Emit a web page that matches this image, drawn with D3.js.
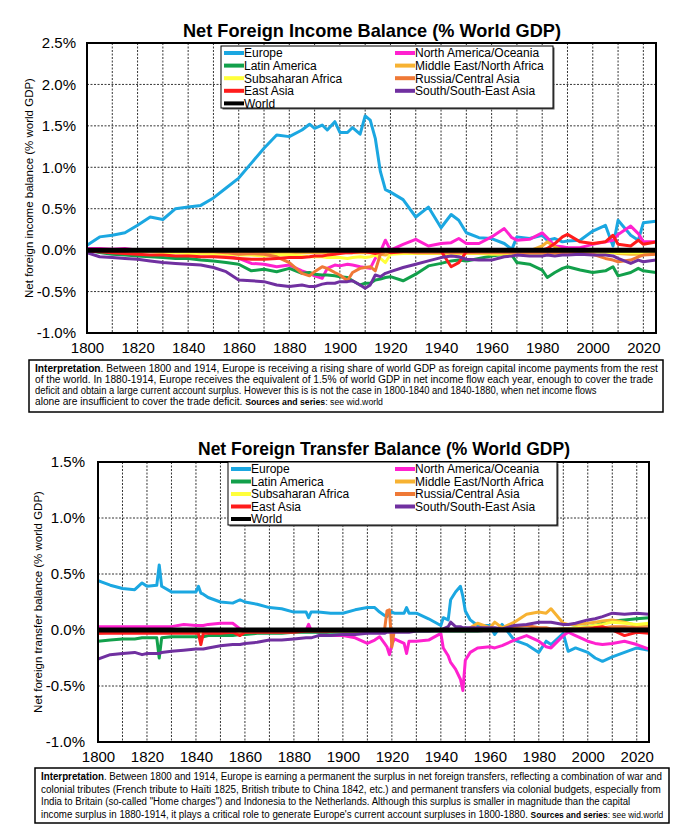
<!DOCTYPE html>
<html>
<head>
<meta charset="utf-8">
<script src="https://cdn.jsdelivr.net/npm/d3@7"></script>
<style>
  body { margin: 0; background: #fff; }
  svg { display: block; font-family: "Liberation Sans", Arial, sans-serif; }
</style>
</head>
<body>
<script>
// ---- shared labels ----
var regionNames = ["Europe", "North America/Oceania", "Latin America", "Middle East/North Africa",
                   "Subsaharan Africa", "Russia/Central Asia", "East Asia", "South/South-East Asia", "World"];
var regionColors = ["#1ba7e1", "#ff21cf", "#12a04b", "#f7b232", "#ffff3a", "#ef7936", "#ff1c1c", "#7030a0", "#000000"];
var legendLeft = ["Europe", "Latin America", "Subsaharan Africa", "East Asia", "World"];
var legendRight = ["North America/Oceania", "Middle East/North Africa", "Russia/Central Asia", "South/South-East Asia"];
var xTicks = [1800, 1820, 1840, 1860, 1880, 1900, 1920, 1940, 1960, 1980, 2000, 2020];
var xGrid = [1810, 1820, 1830, 1840, 1850, 1860, 1870, 1880, 1890, 1900, 1910, 1920, 1930, 1940,
             1950, 1960, 1970, 1980, 1990, 2000, 2010, 2020];

// ---- net foreign income balance (% world GDP) ----
var incomeTicks = [-1.0, -0.5, 0.0, 0.5, 1.0, 1.5, 2.0, 2.5];
var incomeYears = [1800,1805,1810,1815,1820,1825,1830,1835,1840,1845,
                   1850,1855,1860,1865,1870,1875,1880,1885,1888,1890,
                   1893,1895,1898,1900,1903,1905,1908,1910,1912,1914,
                   1916,1918,1920,1925,1930,1935,1940,1944,1947,1950,
                   1955,1960,1965,1968,1970,1975,1980,1982,1985,1988,
                   1990,1995,2000,2005,2008,2010,2015,2018,2020,2025];
var incEurope = [0.06,0.16,0.18,0.21,0.30,0.40,0.37,0.50,0.52,0.54,
                 0.63,0.75,0.87,1.05,1.23,1.39,1.37,1.45,1.52,1.47,
                 1.51,1.45,1.55,1.42,1.42,1.48,1.40,1.62,1.57,1.35,
                 0.95,0.73,0.70,0.61,0.40,0.52,0.27,0.43,0.36,0.21,
                 0.15,0.14,0.08,0.01,0.16,0.14,0.18,0.12,0.14,0.10,
                 0.11,0.12,0.23,0.30,0.05,0.36,0.18,0.12,0.33,0.35];
var incNorthAm = [0.02,0.02,0.01,0.02,0.00,0.00,0.01,-0.01,-0.02,-0.03,
                  -0.05,-0.07,-0.10,-0.16,-0.17,-0.20,-0.18,-0.25,-0.28,-0.31,
                  -0.34,-0.22,-0.18,-0.19,-0.17,-0.18,-0.20,-0.21,-0.22,-0.10,
                  -0.02,0.12,0.00,0.07,0.13,0.05,0.08,0.09,0.14,0.08,
                  0.08,0.16,0.26,0.15,0.12,0.13,0.21,0.15,0.05,0.04,
                  0.03,0.03,0.07,0.10,0.12,0.19,0.29,0.20,0.10,0.10];
var incLatAm = [0.00,-0.03,-0.05,-0.06,-0.07,-0.08,-0.09,-0.10,-0.10,-0.12,
                -0.13,-0.15,-0.17,-0.25,-0.23,-0.26,-0.22,-0.28,-0.27,-0.29,
                -0.30,-0.30,-0.31,-0.32,-0.33,-0.37,-0.42,-0.40,-0.40,-0.36,
                -0.35,-0.33,-0.32,-0.37,-0.29,-0.19,-0.16,-0.13,-0.12,-0.13,
                -0.10,-0.07,-0.05,-0.06,-0.15,-0.17,-0.24,-0.33,-0.27,-0.22,
                -0.20,-0.24,-0.27,-0.25,-0.20,-0.31,-0.27,-0.22,-0.25,-0.27];
var incMidEast = [0.00,0.00,-0.01,-0.01,-0.01,-0.01,-0.02,-0.02,-0.02,-0.02,
                  -0.02,-0.02,-0.03,-0.03,-0.03,-0.03,-0.03,-0.03,-0.03,-0.03,
                  -0.03,-0.03,-0.03,-0.03,-0.03,-0.03,-0.03,-0.03,-0.03,-0.04,
                  -0.05,-0.06,-0.03,-0.02,-0.02,-0.02,-0.02,-0.03,-0.02,-0.02,
                  -0.02,-0.02,-0.02,-0.02,-0.02,-0.01,0.05,0.10,0.04,0.00,
                  -0.01,-0.02,-0.02,-0.02,-0.03,-0.04,-0.05,-0.05,-0.04,-0.04];
var incSubSahara = [0.00,0.00,-0.01,-0.01,-0.02,-0.02,-0.03,-0.03,-0.04,-0.04,
                    -0.05,-0.05,-0.06,-0.06,-0.07,-0.06,-0.06,-0.07,-0.08,-0.08,
                    -0.08,-0.09,-0.09,-0.09,-0.10,-0.09,-0.08,-0.09,-0.08,-0.06,
                    -0.10,-0.15,-0.05,-0.04,-0.04,-0.04,-0.04,-0.04,-0.04,-0.04,
                    -0.04,-0.05,-0.05,-0.05,-0.05,-0.05,-0.05,-0.04,-0.04,-0.04,
                    -0.03,-0.03,-0.03,-0.03,-0.03,-0.03,-0.03,-0.03,-0.03,-0.03];
var incRussia = [0.00,0.00,0.00,0.00,-0.01,-0.01,-0.01,-0.01,-0.01,-0.02,
                 -0.02,-0.03,-0.05,-0.04,-0.05,-0.08,-0.15,-0.28,-0.31,-0.26,
                 -0.20,-0.22,-0.27,-0.30,-0.37,-0.27,-0.22,-0.21,-0.20,-0.25,
                 -0.05,-0.02,-0.02,-0.02,-0.03,-0.03,-0.03,-0.03,-0.03,-0.03,
                 -0.03,-0.03,-0.03,-0.03,-0.03,-0.03,-0.03,-0.03,-0.03,-0.03,
                 -0.04,-0.04,-0.05,-0.10,-0.12,-0.14,-0.12,-0.08,-0.06,-0.05];
var incEastAsia = [-0.01,-0.02,-0.03,-0.04,-0.05,-0.06,-0.06,-0.07,-0.07,-0.08,
                   -0.08,-0.09,-0.10,-0.11,-0.11,-0.10,-0.09,-0.09,-0.08,-0.07,
                   -0.07,-0.06,-0.05,-0.04,-0.03,-0.03,-0.02,-0.02,-0.03,-0.04,
                   -0.02,0.00,-0.03,-0.02,-0.01,0.00,-0.01,-0.20,-0.15,-0.02,
                   0.00,0.00,0.00,0.00,0.00,0.00,0.00,0.02,0.08,0.16,
                   0.19,0.10,0.08,0.10,0.18,0.07,0.05,0.12,0.07,0.10];
var incSouthAsia = [-0.03,-0.08,-0.09,-0.10,-0.11,-0.13,-0.15,-0.16,-0.17,-0.18,
                    -0.21,-0.26,-0.36,-0.37,-0.38,-0.42,-0.44,-0.42,-0.44,-0.44,
                    -0.41,-0.40,-0.40,-0.38,-0.38,-0.37,-0.42,-0.46,-0.42,-0.30,
                    -0.32,-0.28,-0.26,-0.21,-0.17,-0.13,-0.09,-0.07,-0.08,-0.11,
                    -0.12,-0.12,-0.08,-0.07,-0.06,-0.07,-0.07,-0.06,-0.07,-0.06,
                    -0.06,-0.05,-0.06,-0.06,-0.07,-0.10,-0.16,-0.12,-0.14,-0.12];
var incWorld = [0,0,0,0,0,0,0,0,0,0, 0,0,0,0,0,0,0,0,0,0, 0,0,0,0,0,0,0,0,0,0,
                0,0,0,0,0,0,0,0,0,0, 0,0,0,0,0,0,0,0,0,0, 0,0,0,0,0,0,0,0,0,0];

// ---- net foreign transfer balance (% world GDP) ----
var transferTicks = [-1.0, -0.5, 0.0, 0.5, 1.0, 1.5];
var transferYears = [1800,1805,1810,1815,1818,1820,1824,1825,1826,1830,
                     1835,1840,1841,1842,1843,1845,1850,1855,1858,1860,
                     1865,1870,1875,1880,1885,1886,1887,1890,1895,1900,
                     1905,1910,1913,1915,1917,1918,1919,1920,1921,1925,
                     1926,1927,1930,1935,1940,1941,1943,1944,1946,1948,
                     1949,1950,1952,1955,1960,1962,1965,1970,1975,1980,
                     1983,1985,1990,1992,1995,2000,2003,2006,2010,2015,
                     2020,2025];
var trEurope = [0.44,0.40,0.37,0.36,0.42,0.39,0.40,0.58,0.39,0.34,
                0.34,0.34,0.39,0.33,0.32,0.29,0.25,0.24,0.27,0.25,
                0.23,0.20,0.19,0.16,0.16,0.11,0.16,0.16,0.15,0.15,
                0.18,0.20,0.20,0.16,0.13,0.12,0.15,0.16,0.15,0.15,
                0.20,0.15,0.15,0.10,0.04,0.11,0.09,0.27,0.34,0.39,
                0.30,0.17,0.09,0.04,0.04,-0.04,0.05,-0.09,-0.13,-0.20,
                -0.10,-0.13,-0.03,-0.19,-0.16,-0.20,-0.25,-0.28,-0.24,-0.20,
                -0.16,-0.18];
var trNorthAm = [0.03,0.03,0.03,0.03,0.03,0.03,0.03,0.03,0.03,0.03,
                 0.05,0.04,0.04,0.04,0.04,0.05,0.06,0.06,0.01,0.00,
                 0.00,0.00,0.00,0.00,0.00,0.05,0.00,-0.02,-0.05,-0.05,
                 -0.07,-0.12,-0.09,-0.06,-0.12,-0.15,-0.22,-0.13,-0.08,-0.12,
                 -0.21,-0.10,-0.10,-0.09,-0.03,-0.16,-0.23,-0.29,-0.35,-0.44,
                 -0.54,-0.27,-0.20,-0.16,-0.15,-0.16,-0.14,-0.09,-0.05,-0.10,
                 -0.15,-0.16,-0.05,-0.02,-0.05,-0.10,-0.12,-0.13,-0.12,-0.10,
                 -0.13,-0.17];
var trLatAm = [-0.10,-0.09,-0.08,-0.08,-0.07,-0.07,-0.07,-0.25,-0.07,-0.06,
               -0.06,-0.06,-0.06,-0.06,-0.06,-0.05,-0.05,-0.05,-0.04,-0.04,
               -0.03,-0.03,-0.03,-0.02,-0.02,-0.02,-0.02,-0.02,-0.02,-0.02,
               -0.02,-0.01,-0.01,-0.01,-0.01,-0.01,-0.01,-0.01,-0.01,-0.01,
               -0.01,-0.01,-0.01,-0.01,-0.01,-0.01,-0.01,-0.01,-0.01,-0.01,
               -0.01,-0.01,-0.01,-0.01,0.00,0.00,0.00,0.00,0.00,0.00,
               0.00,0.00,0.01,0.01,0.02,0.03,0.04,0.06,0.08,0.09,
               0.10,0.11];
var trMidEast = [0,0,0,0,0,0,0,0,0,0, 0,0,0,0,0,0,0,0,0,0, 0,0,0,0,0,0,0,0,0,0,
                 0,0,0,0,0,0,0,0,0,0, 0,0,0,0,0,0,0,0,0,0,
                 0.00,0.00,0.02,0.06,0.02,0.07,0.02,0.07,0.14,0.16,
                 0.15,0.19,0.06,0.05,0.05,0.06,0.07,0.08,0.09,0.07,
                 0.04,0.05];
var trSubSahara = [0,0,0,0,0,0,0,0,0,0, 0,0,0,0,0,0,0,0,0,0, 0,0,0,0,0,0,0,0,0,0,
                   0,0,0,0,0,0,0,0,0,0, 0,0,0,0,0,0,0,0,0,0, 0,0,0,0,0,0,0,0,0,0,
                   0.00,0.00,0.01,0.01,0.02,0.03,0.04,0.05,0.07,0.06,
                   0.05,0.06];
var trRussia = [-0.03,-0.02,-0.02,-0.02,-0.02,-0.02,-0.02,-0.02,-0.02,-0.02,
                -0.02,-0.02,-0.02,-0.02,-0.02,-0.02,-0.02,-0.02,-0.02,-0.02,
                -0.01,-0.01,-0.01,-0.01,-0.01,-0.01,-0.01,-0.01,-0.01,-0.01,
                -0.01,-0.01,0.00,0.00,0.00,0.17,0.18,-0.15,0.00,0.00,
                0,0,0,0,0,0,0,0,0,0,
                0.00,0.00,0.00,0.00,0.00,0.00,0.00,0.03,0.04,0.02,
                0.02,0.01,0.01,0.01,0.01,0.02,0.02,0.02,0.03,0.03,
                0.02,0.02];
var trEastAsia = [-0.03,-0.03,-0.03,-0.03,-0.03,-0.03,-0.03,-0.03,-0.03,-0.03,
                  -0.03,-0.03,-0.03,-0.13,-0.03,-0.03,-0.03,-0.02,-0.05,-0.02,
                  -0.02,-0.02,-0.02,-0.02,-0.01,-0.01,-0.01,-0.01,-0.01,0.00,
                  0,0,0,0,0,0,0,0,0,0, 0,0,0,0,0,0,0,0,0,0, 0,0,0,0,0,0,0,0,0,0,
                  0.00,0.00,0.00,0.00,0.00,0.00,0.02,0.03,0.00,-0.05,
                  -0.02,-0.03];
var trSouthAsia = [-0.26,-0.22,-0.21,-0.20,-0.22,-0.21,-0.21,-0.21,-0.20,-0.19,
                   -0.18,-0.17,-0.17,-0.17,-0.17,-0.16,-0.14,-0.13,-0.13,-0.12,
                   -0.11,-0.09,-0.09,-0.08,-0.07,-0.07,-0.07,-0.05,-0.05,-0.04,
                   -0.04,-0.03,-0.03,-0.03,-0.03,-0.02,-0.02,-0.02,-0.02,-0.02,
                   -0.02,-0.02,-0.01,-0.01,0.00,0.01,0.03,0.07,0.03,0.03,
                   0.02,0.02,0.02,0.02,0.02,0.02,0.01,0.04,0.05,0.07,
                   0.07,0.07,0.05,0.05,0.06,0.09,0.10,0.12,0.15,0.14,
                   0.15,0.14];
var trWorld = [0,0,0,0,0,0,0,0,0,0, 0,0,0,0,0,0,0,0,0,0, 0,0,0,0,0,0,0,0,0,0,
               0,0,0,0,0,0,0,0,0,0, 0,0,0,0,0,0,0,0,0,0, 0,0,0,0,0,0,0,0,0,0,
               0,0,0,0,0,0,0,0,0,0, 0,0];

var svg = d3.select("body").append("svg")
    .attr("width", 682)
    .attr("height", 834);

function pct(d) { return d.toFixed(1) + "%"; }

function drawPanel(p) {
    var x = d3.scaleLinear().domain([1800, 2025]).range([p.left, p.right]);
    var y = d3.scaleLinear().domain([p.ticks[0], p.ticks[p.ticks.length - 1]]).range([p.bottom, p.top]);
    var g = svg.append("g");

    g.append("text")
        .attr("x", p.titleX).attr("y", p.titleY)
        .attr("text-anchor", "middle")
        .attr("textLength", p.titleW).attr("lengthAdjust", "spacingAndGlyphs")
        .style("font-weight", "bold").style("font-size", "18.5px")
        .text(p.title);

    // grid
    g.append("g").selectAll("line").data(xGrid).enter().append("line")
        .attr("x1", function(d) { return x(d); }).attr("x2", function(d) { return x(d); })
        .attr("y1", p.top).attr("y2", p.bottom)
        .attr("stroke", "#000").attr("stroke-width", 0.8).attr("stroke-dasharray", "2,1.5");
    g.append("g").selectAll("line").data(p.ticks.slice(1, -1)).enter().append("line")
        .attr("x1", p.left).attr("x2", p.right)
        .attr("y1", function(d) { return y(d); }).attr("y2", function(d) { return y(d); })
        .attr("stroke", "#000").attr("stroke-width", 0.8).attr("stroke-dasharray", "2,1.5");

    // axes
    var xAxis = g.append("g")
        .attr("transform", "translate(0," + p.bottom + ")")
        .call(d3.axisBottom(x).tickValues(xTicks).tickFormat(d3.format("d")).tickSize(0).tickPadding(9));
    xAxis.select(".domain").remove();
    xAxis.selectAll("text").style("font-size", "15px").style("font-family", "inherit").attr("fill", "#000");

    var yAxis = g.append("g")
        .attr("transform", "translate(" + p.left + ",0)")
        .call(d3.axisLeft(y).tickValues(p.ticks).tickFormat(pct).tickSize(0).tickPadding(p.yPad));
    yAxis.select(".domain").remove();
    yAxis.selectAll("text").style("font-size", "15px").style("font-family", "inherit").attr("fill", "#000");

    g.append("text")
        .attr("transform", "translate(" + p.ylabelX + "," + ((p.top + p.bottom) / 2) + ") rotate(-90)")
        .attr("text-anchor", "middle")
        .style("font-size", "11.5px")
        .text(p.ylabel);

    // lines
    var clipId = "clip" + p.top;
    g.append("clipPath").attr("id", clipId).append("rect")
        .attr("x", p.left).attr("y", p.top).attr("width", p.right - p.left).attr("height", p.bottom - p.top);
    var line = d3.line()
        .x(function(d) { return x(d[0]); })
        .y(function(d) { return y(d[1]); });
    var lines = g.append("g").attr("clip-path", "url(#" + clipId + ")");
    p.series.forEach(function(vals, i) {
        var pts = p.years.map(function(yr, j) { return [yr, vals[j]]; });
        lines.append("path")
            .datum(pts)
            .attr("d", line)
            .attr("fill", "none")
            .attr("stroke", regionColors[i])
            .attr("stroke-width", i === 8 ? 5 : 3)
            .attr("stroke-linejoin", "round");
    });

    g.append("rect")
        .attr("x", p.left).attr("y", p.top)
        .attr("width", p.right - p.left).attr("height", p.bottom - p.top)
        .attr("fill", "none").attr("stroke", "#000").attr("stroke-width", 2);

    // legend
    var L = p.legend;
    var lg = g.append("g");
    lg.append("rect").attr("x", L.x + 1.5).attr("y", L.y + 1.5).attr("width", L.w).attr("height", L.h)
        .attr("fill", "#555");
    lg.append("rect").attr("x", L.x).attr("y", L.y).attr("width", L.w).attr("height", L.h)
        .attr("fill", "#fff").attr("stroke", "#000").attr("stroke-width", 1);
    function legendCol(names, cx) {
        names.forEach(function(n, r) {
            var yy = L.y + 7 + r * L.row;
            var c = regionColors[regionNames.indexOf(n)];
            lg.append("line").attr("x1", cx).attr("x2", cx + 20).attr("y1", yy).attr("y2", yy)
                .attr("stroke", c).attr("stroke-width", 4);
            lg.append("text").attr("x", cx + 20).attr("y", yy + 4.4)
                .style("font-size", "12px").text(n);
        });
    }
    legendCol(legendLeft, L.x + 3);
    legendCol(legendRight, L.col2);

    // interpretation box
    var B = p.box;
    g.append("rect").attr("x", B.x).attr("y", B.y).attr("width", B.w).attr("height", B.h)
        .attr("fill", "#fff").attr("stroke", "#000").attr("stroke-width", 1.5);
    var sx = null;
    B.lines.forEach(function(parts, k) {
        var tg = g.append("g");
        var t = tg.append("text").attr("x", 0).attr("y", 0).style("font-size", B.font + "px");
        parts.forEach(function(pt) {
            var ts = t.append("tspan").text(pt.t);
            if (pt.b) ts.style("font-weight", "bold");
            if (pt.s) ts.style("font-size", (B.font - 1.5) + "px");
        });
        var w = t.node().getComputedTextLength();
        if (sx === null) sx = B.fits[0] / w;
        var s = (k < B.lines.length - 1 || B.fitLast) ? B.fits[k] / w : sx;
        tg.attr("transform", "translate(" + (B.x + 6) + "," + B.base[k] + ") scale(" + s + ",1)");
    });
}

drawPanel({
    title: "Net Foreign Income Balance (% World GDP)", titleX: 372, titleY: 37, titleW: 378,
    left: 87, right: 656, top: 43, bottom: 333, ticks: incomeTicks, yPad: 11,
    ylabel: "Net foreign income balance (% world GDP)", ylabelX: 33,
    years: incomeYears,
    series: [incEurope, incNorthAm, incLatAm, incMidEast, incSubSahara, incRussia, incEastAsia, incSouthAsia, incWorld],
    legend: { x: 221, y: 46, w: 332, h: 62, row: 12.6, col2: 395 },
    box: {
        x: 29, y: 360, w: 634, h: 52, font: 10.5, fits: [624, 619, 562], fitLast: false,
        base: [372, 383, 394, 404.5],
        lines: [
            [{ t: "Interpretation", b: true }, { t: ". Between 1800 and 1914, Europe is receiving a rising share of world GDP as foreign capital income payments from the rest" }],
            [{ t: "of the world. In 1880-1914, Europe receives the equivalent of 1.5% of world GDP in net income flow each year, enough to cover the trade" }],
            [{ t: "deficit and obtain a large current account surplus. However this is is not the case in 1800-1840 and 1840-1880, when net income flows" }],
            [{ t: "alone are insufficient to cover the trade deficit. " }, { t: "Sources and series", b: true, s: true }, { t: ": see wid.world", s: true }]
        ]
    }
});

drawPanel({
    title: "Net Foreign Transfer Balance (% World GDP)", titleX: 384, titleY: 455, titleW: 372,
    left: 98, right: 649, top: 462, bottom: 742, ticks: transferTicks, yPad: 13,
    ylabel: "Net foreign transfer balance (% world GDP)", ylabelX: 42,
    years: transferYears,
    series: [trEurope, trNorthAm, trLatAm, trMidEast, trSubSahara, trRussia, trEastAsia, trSouthAsia, trWorld],
    legend: { x: 228, y: 462, w: 329, h: 63, row: 12.5, col2: 395 },
    box: {
        x: 35, y: 768, w: 634, h: 55, font: 11, fits: [622, 620, 590, 623], fitLast: true,
        base: [780, 792.5, 805, 817.5],
        lines: [
            [{ t: "Interpretation", b: true }, { t: ". Between 1800 and 1914, Europe is earning a permanent the surplus in net foreign transfers, reflecting a combination of war and" }],
            [{ t: "colonial tributes (French tribute to Haïti 1825, British tribute to China 1842, etc.) and permanent transfers via colonial budgets, especially from" }],
            [{ t: "India to Britain (so-called \"Home charges\") and Indonesia to the Netherlands. Although this surplus is smaller in magnitude than the capital" }],
            [{ t: "income surplus in 1880-1914, it plays a critical role to generate Europe's current account surpluses in 1800-1880. " }, { t: "Sources and series", b: true, s: true }, { t: ": see wid.world", s: true }]
        ]
    }
});
</script>
</body>
</html>
